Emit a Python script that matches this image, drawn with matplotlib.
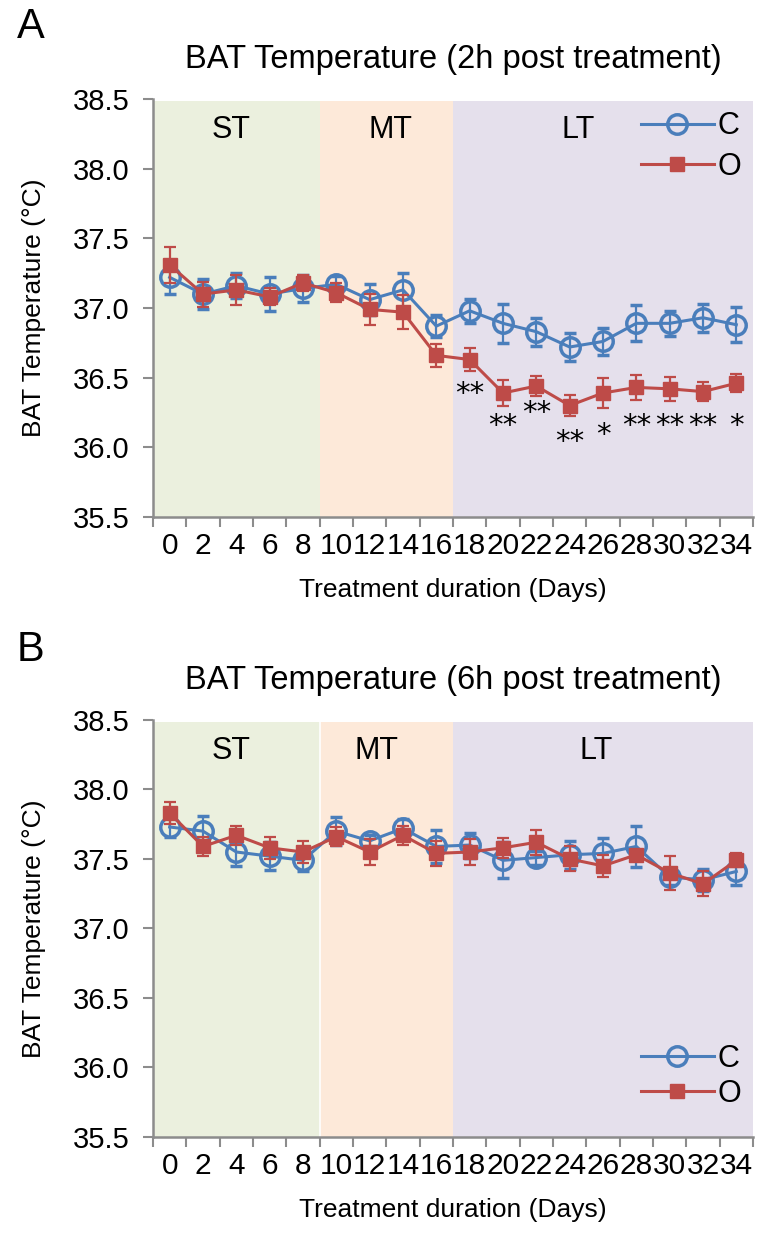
import numpy as np
import matplotlib
matplotlib.use("Agg")
import matplotlib.pyplot as plt
from matplotlib.lines import Line2D

plt.rcParams['font.family'] = ['Liberation Sans', 'DejaVu Sans']

days = ['0', '2', '4', '6', '8', '10', '12', '14', '16', '18', '20', '22', '24', '26', '28', '30', '32', '34']

# panel A, 2h post treatment
c_2h = [37.22, 37.10, 37.16, 37.10, 37.14, 37.17, 37.06, 37.13, 36.87, 36.98, 36.89, 36.83, 36.72, 36.76, 36.89, 36.89, 36.93, 36.88]
c_2h_err = [0.12, 0.11, 0.09, 0.12, 0.10, 0.06, 0.11, 0.12, 0.08, 0.085, 0.14, 0.10, 0.10, 0.10, 0.13, 0.09, 0.10, 0.125]
o_2h = [37.31, 37.10, 37.13, 37.08, 37.18, 37.11, 36.99, 36.97, 36.66, 36.63, 36.39, 36.44, 36.30, 36.39, 36.43, 36.42, 36.40, 36.46]
o_2h_err = [0.13, 0.09, 0.11, 0.06, 0.06, 0.07, 0.11, 0.12, 0.08, 0.08, 0.09, 0.07, 0.075, 0.11, 0.09, 0.085, 0.07, 0.065]
stars_2h = ['', '', '', '', '', '', '', '', '', '**', '**', '**', '**', '*', '**', '**', '**', '*']
stars_2h_y = [0, 0, 0, 0, 0, 0, 0, 0, 0, 36.38, 36.15, 36.25, 36.04, 36.09, 36.15, 36.15, 36.15, 36.15]

# panel B, 6h post treatment
c_6h = [37.73, 37.70, 37.55, 37.52, 37.49, 37.70, 37.63, 37.72, 37.59, 37.60, 37.49, 37.51, 37.53, 37.54, 37.59, 37.37, 37.35, 37.41]
c_6h_err = [0.07, 0.11, 0.10, 0.10, 0.08, 0.10, 0.04, 0.07, 0.12, 0.09, 0.13, 0.05, 0.10, 0.11, 0.15, 0.06, 0.08, 0.10]
o_6h = [37.83, 37.59, 37.67, 37.58, 37.55, 37.66, 37.55, 37.67, 37.54, 37.55, 37.58, 37.62, 37.50, 37.45, 37.53, 37.40, 37.32, 37.49]
o_6h_err = [0.08, 0.07, 0.07, 0.08, 0.08, 0.07, 0.09, 0.07, 0.09, 0.09, 0.07, 0.09, 0.09, 0.08, 0.03, 0.12, 0.09, 0.05]

phases = ['ST', 'MT', 'LT']
phase_start = [-0.5, 4.5, 8.5]
phase_end = [4.5, 8.5, 17.5]
phase_colors = ['#EBF0DE', '#FDE9D9', '#E5E0EC']

BLUE = '#4A7EBB'
RED = '#BE4B48'
GRAY = '#8C8C8C'


def draw_panel(ax, c, c_err, o, o_err, title, phase_x, leg_loc, leg_anchor, leg_space,
               stars=None, stars_y=None):
    x = np.arange(len(days))
    for name, a, b, col, px in zip(phases, phase_start, phase_end, phase_colors, phase_x):
        ax.axvspan(a, b, ymax=0.995, color=col, lw=0, zorder=0)
        ax.text(px, 38.28, name, ha='center', va='center', fontsize=22)

    ax.errorbar(x, c, yerr=c_err, color=BLUE, lw=2.2, marker='o', ms=14,
                mfc='none', mew=2.5, capsize=4.5, elinewidth=1.6, capthick=1.6, zorder=3)
    ax.errorbar(x, o, yerr=o_err, color=RED, lw=2.2, marker='s', ms=10,
                capsize=4.5, elinewidth=1.6, capthick=1.6, zorder=4)

    if stars is not None:
        for xi, s, sy in zip(x, stars, stars_y):
            if s:
                ax.text(xi, sy, s, ha='center', va='center', fontsize=21,
                        family='DejaVu Sans')

    ax.set_xlim(-0.5, 17.5)
    ax.set_ylim(35.5, 38.5)
    ax.set_yticks(np.arange(35.5, 38.51, 0.5))
    ax.set_yticklabels(['%.1f' % v for v in np.arange(35.5, 38.51, 0.5)], fontsize=21)
    ax.set_xticks(np.arange(-0.5, 17.6, 1))
    ax.set_xticklabels([])
    ax.set_xticks(x, minor=True)
    ax.set_xticklabels(days, minor=True, fontsize=21.5)
    ax.tick_params(axis='x', which='major', length=7, width=1.5, color=GRAY)
    ax.tick_params(axis='x', which='minor', length=0, pad=11)
    ax.tick_params(axis='y', length=7, width=1.5, color=GRAY, pad=10)
    for side in ['top', 'right']:
        ax.spines[side].set_visible(False)
    for side in ['left', 'bottom']:
        ax.spines[side].set_color(GRAY)
        ax.spines[side].set_linewidth(1.8)
    ax.set_xlabel('Treatment duration (Days)', fontsize=19, labelpad=13)
    ax.set_ylabel('BAT Temperature (°C)', fontsize=19, labelpad=19)
    ax.set_title(title, fontsize=23.5, pad=22)

    handles = [Line2D([], [], color=BLUE, lw=2.2, marker='o', ms=14, mfc='none', mew=2.5),
               Line2D([], [], color=RED, lw=2.2, marker='s', ms=10)]
    ax.legend(handles, ['C', 'O'], loc=leg_loc, bbox_to_anchor=leg_anchor, frameon=False,
              fontsize=22, handlelength=2.4, handletextpad=0.1, borderaxespad=0,
              borderpad=0.2, labelspacing=leg_space)


fig = plt.figure(figsize=(7.57, 12.33), dpi=100)
ax1 = fig.add_axes([0.2021, 0.5807, 0.7926, 0.339])
ax2 = fig.add_axes([0.2021, 0.0779, 0.7926, 0.3382])

draw_panel(ax1, c_2h, c_2h_err, o_2h, o_2h_err, 'BAT Temperature (2h post treatment)',
           [1.83, 6.63, 12.27], 'upper right', (0.99, 0.985), 0.35, stars_2h, stars_2h_y)
draw_panel(ax2, c_6h, c_6h_err, o_6h, o_6h_err, 'BAT Temperature (6h post treatment)',
           [1.83, 6.2, 12.8], 'lower right', (0.99, 0.053), 0.15)
ax2.axvline(4.5, color='white', lw=1.2, zorder=1)

fig.text(0.022, 0.978, 'A', fontsize=30, va='center')
fig.text(0.022, 0.473, 'B', fontsize=30, va='center')

fig.savefig('out.png', dpi=100)
